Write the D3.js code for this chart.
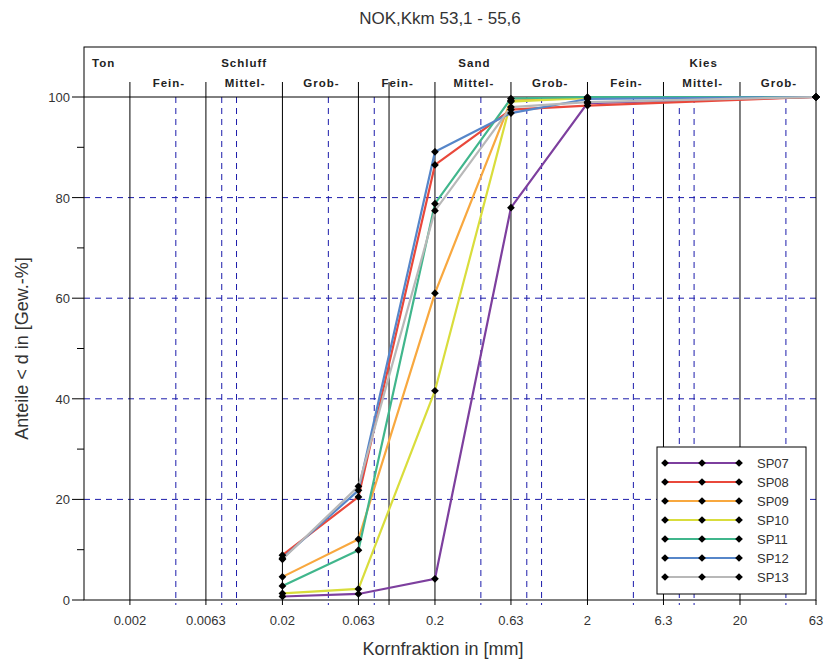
<!DOCTYPE html>
<html>
<head>
<meta charset="utf-8">
<script src="https://cdn.jsdelivr.net/npm/d3@7"></script>
<style>
  body { margin: 0; background: #fff; }
  svg { display: block; font-family: Arial, "Liberation Sans", sans-serif; }
</style>
</head>
<body>
<svg id="chart" width="826" height="662"></svg>
<script>
// Siebdurchgänge (Kornfraktion in mm -> Anteil < d in %)
var sieve = [0.02, 0.063, 0.2, 0.63, 2, 63];
var seriesNames = ["SP07", "SP08", "SP09", "SP10", "SP11", "SP12", "SP13"];
var seriesColors = ["#7d3f9e", "#e9483b", "#f8a83f", "#d9dd3c", "#40b68c", "#5686c9", "#b8b8b8"];
var sp07 = [0.7, 1.2, 4.2, 78, 98.8, 100];
var sp08 = [8.9, 20.5, 86.5, 97.5, 98.3, 100];
var sp09 = [4.6, 12.1, 61, 99.3, 99.8, 100];
var sp10 = [1.3, 2.2, 41.6, 99.1, 99.8, 100];
var sp11 = [2.8, 9.9, 78.8, 99.7, 100, 100];
var sp12 = [8.3, 21.8, 89.1, 96.8, 99.6, 100];
var sp13 = [8.1, 22.6, 77.4, 98, 99, 100];
var seriesValues = [sp07, sp08, sp09, sp10, sp11, sp12, sp13];

// Achsen / Raster
var xTicks = [0.002, 0.0063, 0.02, 0.063, 0.2, 0.63, 2, 6.3, 20, 63];
var xTickLabels = ["0.002", "0.0063", "0.02", "0.063", "0.2", "0.63", "2", "6.3", "20", "63"];
var solidLines = [0.002, 0.0063, 0.02, 0.063, 0.1, 0.2, 0.63, 2, 6.3, 20];
var dashedLines = [0.004, 0.008, 0.01, 0.04, 0.08, 0.4, 0.8, 1, 4, 8, 10, 40];
var yTicks = [0, 10, 20, 30, 40, 50, 60, 70, 80, 90, 100];
var yGrid = [20, 40, 60, 80];

// Kopfzeile Bodenarten
var groupLabels = ["Schluff", "Sand", "Kies"];
var groupBounds = [[0.0063, 0.02], [0.2, 0.63], [6.3, 20]];
var subLabels = ["Fein-", "Mittel-", "Grob-", "Fein-", "Mittel-", "Grob-", "Fein-", "Mittel-", "Grob-"];
var subBounds = [0.002, 0.0063, 0.02, 0.063, 0.2, 0.63, 2, 6.3, 20, 63];

var svg = d3.select("#chart");
var plotLeft = 84, plotRight = 816, plotTop = 97, plotBottom = 600, headTop = 47;
var gridBlue = "#1c1cab";

var x = d3.scaleLog().domain([0.001, 63]).range([plotLeft, plotRight]);
var y = d3.scaleLinear().domain([0, 100]).range([plotBottom, plotTop]);

// Titel
svg.append("text")
  .attr("x", 440).attr("y", 24)
  .attr("text-anchor", "middle")
  .attr("font-size", 17).attr("fill", "#333")
  .text("NOK,Kkm 53,1 - 55,6");

// horizontales Raster
svg.append("g").selectAll("line").data(yGrid).enter().append("line")
  .attr("x1", plotLeft).attr("x2", plotRight)
  .attr("y1", function (d) { return y(d); }).attr("y2", function (d) { return y(d); })
  .attr("stroke", gridBlue).attr("stroke-dasharray", "6,5");

// vertikales Raster gestrichelt
svg.append("g").selectAll("line").data(dashedLines).enter().append("line")
  .attr("x1", function (d) { return x(d); }).attr("x2", function (d) { return x(d); })
  .attr("y1", plotTop).attr("y2", plotBottom + 5)
  .attr("stroke", gridBlue).attr("stroke-dasharray", "6,5");

// vertikale Linien durchgezogen
svg.append("g").selectAll("line").data(solidLines).enter().append("line")
  .attr("x1", function (d) { return x(d); }).attr("x2", function (d) { return x(d); })
  .attr("y1", plotTop - 15).attr("y2", plotBottom + 5)
  .attr("stroke", "#000");

// 100%-Linie und Rahmen
svg.append("line").attr("x1", plotLeft).attr("x2", plotRight)
  .attr("y1", y(100)).attr("y2", y(100)).attr("stroke", "#000");
svg.append("rect").attr("x", plotLeft).attr("y", headTop)
  .attr("width", plotRight - plotLeft).attr("height", plotBottom - headTop)
  .attr("fill", "none").attr("stroke", "#000");
svg.append("line").attr("x1", plotRight).attr("x2", plotRight)
  .attr("y1", plotBottom).attr("y2", plotBottom + 5).attr("stroke", "#000");

// Kopfzeile
var head = svg.append("g")
  .attr("font-size", 11.5).attr("font-weight", "bold")
  .attr("fill", "#222").attr("letter-spacing", 1);
head.append("text").attr("x", 92).attr("y", 67).text("Ton");
head.selectAll(".grp").data(groupLabels).enter().append("text")
  .attr("class", "grp")
  .attr("x", function (d, i) { return Math.sqrt(x(groupBounds[i][0]) * x(groupBounds[i][1])) + 3; })
  .attr("y", 67).attr("text-anchor", "middle")
  .text(function (d) { return d; });
head.selectAll(".sub").data(subLabels).enter().append("text")
  .attr("class", "sub")
  .attr("x", function (d, i) { return (x(subBounds[i]) + x(subBounds[i + 1])) / 2 + 1; })
  .attr("y", 87).attr("text-anchor", "middle")
  .text(function (d) { return d; });

// y-Achse
var yAxis = svg.append("g").attr("font-size", 13).attr("fill", "#333");
yAxis.selectAll("line").data(yTicks).enter().append("line")
  .attr("x1", function (d) { return d % 20 == 0 ? plotLeft - 12 : plotLeft - 7; })
  .attr("x2", plotLeft)
  .attr("y1", function (d) { return y(d); }).attr("y2", function (d) { return y(d); })
  .attr("stroke", "#000");
yAxis.selectAll("text").data(yTicks.filter(function (d) { return d % 20 == 0; })).enter().append("text")
  .attr("x", plotLeft - 14).attr("y", function (d) { return y(d) + 5; })
  .attr("text-anchor", "end")
  .text(function (d) { return d; });

// x-Achse Beschriftung
svg.append("g").attr("font-size", 13).attr("fill", "#333")
  .selectAll("text").data(xTicks).enter().append("text")
  .attr("x", function (d) { return x(d); }).attr("y", 625)
  .attr("text-anchor", "middle")
  .text(function (d, i) { return xTickLabels[i]; });

svg.append("text")
  .attr("x", 443).attr("y", 655)
  .attr("text-anchor", "middle").attr("font-size", 18).attr("fill", "#333")
  .text("Kornfraktion in [mm]");
svg.append("text")
  .attr("transform", "translate(28," + ((plotTop + plotBottom) / 2) + ") rotate(-90)")
  .attr("text-anchor", "middle").attr("font-size", 18).attr("fill", "#333")
  .text("Anteile < d in [Gew.-%]");

// Kurven
var line = d3.line()
  .x(function (d) { return x(d[0]); })
  .y(function (d) { return y(d[1]); });
var diamond = d3.symbol().type(d3.symbolSquare).size(30);

var curves = svg.append("g");
seriesValues.forEach(function (vals, k) {
  var pts = sieve.map(function (s, i) { return [s, vals[i]]; });
  curves.append("path")
    .attr("d", line(pts))
    .attr("fill", "none")
    .attr("stroke", seriesColors[k])
    .attr("stroke-width", 2.2);
});
seriesValues.forEach(function (vals) {
  curves.selectAll(null).data(sieve).enter().append("path")
    .attr("d", diamond)
    .attr("transform", function (d, i) { return "translate(" + x(d) + "," + y(vals[i]) + ") rotate(45)"; })
    .attr("fill", "#000");
});

// Legende
var lg = svg.append("g").attr("transform", "translate(657,447)");
lg.append("rect").attr("width", 149).attr("height", 147)
  .attr("fill", "#fff").attr("stroke", "#000");
var rows = lg.selectAll(".row").data(seriesNames).enter().append("g")
  .attr("class", "row")
  .attr("transform", function (d, i) { return "translate(0," + (16 + i * 19) + ")"; });
rows.append("line").attr("x1", 8).attr("x2", 82)
  .attr("stroke", function (d, i) { return seriesColors[i]; })
  .attr("stroke-width", 2.2);
rows.selectAll("path").data([8, 45, 82]).enter().append("path")
  .attr("d", diamond)
  .attr("transform", function (d) { return "translate(" + d + ",0) rotate(45)"; })
  .attr("fill", "#000");
rows.append("text").attr("x", 100).attr("y", 5)
  .attr("font-size", 13).attr("fill", "#333")
  .text(function (d) { return d; });
</script>
</body>
</html>
